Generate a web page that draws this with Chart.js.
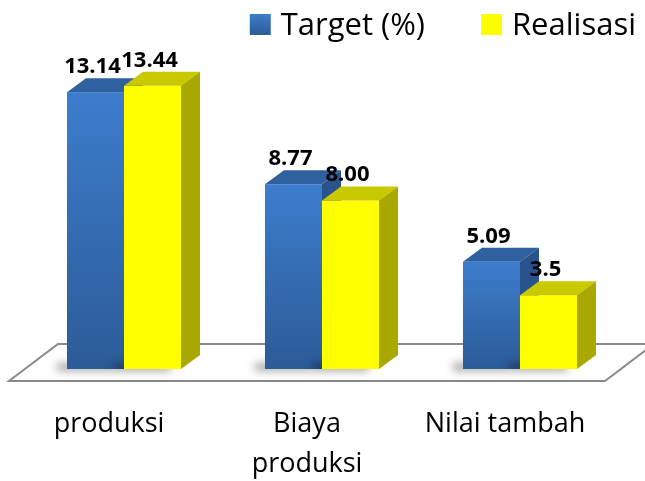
<!DOCTYPE html>
<html>
<head>
<meta charset="utf-8">
<script src="https://cdn.jsdelivr.net/npm/chart.js@4/dist/chart.umd.min.js"></script>
<style>
  html, body { margin: 0; padding: 0; background: #fff; }
  #wrap { width: 645px; height: 481px; position: relative; }
</style>
</head>
<body>
<div id="wrap"><canvas id="chart"></canvas></div>
<script>
// data
const categories = ['produksi', ['Biaya', 'produksi'], 'Nilai tambah'];
const targetValues = [13.14, 8.77, 5.09];
const realisasiValues = [13.44, 8.00, 3.5];
const targetLabels = ['13.14', '8.77', '5.09'];
const realisasiLabels = ['13.44', '8.00', '3.5'];

// 3D look
const DX = 19, DY = 14;
const FACES = [
    { front: ['#3d7dcd', '#2c5b97'], top: '#2f60a0', side: '#29538c', key: '#3a74c2' }, // blue
    { front: ['#ffff00', '#ffff00'], top: '#c9c900', side: '#a8a800', key: '#ffff00' }  // yellow
];

function drawBox(ctx, bar, face) {
    const p = bar.getProps(['x', 'y', 'base', 'width'], true);
    const l = p.x - p.width / 2, r = p.x + p.width / 2;
    const top = p.y, base = p.base;

    // soft shadow on the floor
    ctx.save();
    ctx.filter = 'blur(4px)';
    ctx.fillStyle = 'rgba(0,0,0,0.35)';
    ctx.fillRect(l - 10, base - 6, p.width, 8);
    ctx.restore();

    const g = ctx.createLinearGradient(0, top, 0, base);
    g.addColorStop(0, face.front[0]);
    g.addColorStop(1, face.front[1]);
    ctx.fillStyle = g;
    ctx.fillRect(l, top, r - l, base - top);

    ctx.fillStyle = face.top;
    ctx.beginPath();
    ctx.moveTo(l, top);
    ctx.lineTo(l + DX, top - DY);
    ctx.lineTo(r + DX, top - DY);
    ctx.lineTo(r, top);
    ctx.closePath();
    ctx.fill();

    ctx.fillStyle = face.side;
    ctx.beginPath();
    ctx.moveTo(r, top);
    ctx.lineTo(r + DX, top - DY);
    ctx.lineTo(r + DX, base - DY);
    ctx.lineTo(r, base);
    ctx.closePath();
    ctx.fill();
}

const bars3d = {
    id: 'bars3d',
    beforeDatasetsDraw(chart) {
        const ctx = chart.ctx;
        const area = chart.chartArea;
        const zeroY = chart.scales.y.getPixelForValue(0);

        // floor
        const fy = zeroY + 12, by = zeroY - 25;
        const fl = area.left - 16, fr = area.right - 14;
        ctx.save();
        ctx.fillStyle = '#fff';
        ctx.strokeStyle = '#8a8a8a';
        ctx.lineWidth = 2;
        ctx.beginPath();
        ctx.moveTo(fl, fy);
        ctx.lineTo(fr, fy);
        ctx.lineTo(fr + 49, by);
        ctx.lineTo(fl + 49, by);
        ctx.closePath();
        ctx.fill();
        ctx.stroke();

        // bars, group by group so the faces overlap the right way
        const metas = chart.data.datasets.map((d, i) => chart.getDatasetMeta(i));
        for (let i = 0; i < categories.length; i++) {
            metas.forEach((meta, di) => drawBox(ctx, meta.data[i], FACES[di]));
        }

        // value labels
        ctx.fillStyle = '#000';
        ctx.font = 'bold 22px "Open Sans"';
        ctx.textAlign = 'center';
        ctx.textBaseline = 'alphabetic';
        const texts = [targetLabels, realisasiLabels];
        metas.forEach((meta, di) => {
            meta.data.forEach((bar, i) => {
                ctx.fillText(texts[di][i], bar.x - 3, bar.y - DY - 5);
            });
        });
        ctx.restore();
        return false;
    },
    afterDraw(chart) {
        // legend, top right
        const ctx = chart.ctx;
        ctx.save();
        ctx.font = '31px "Open Sans"';
        ctx.textBaseline = 'alphabetic';
        ctx.textAlign = 'left';
        const items = chart.data.datasets.map((d, i) => ({ text: d.label, color: FACES[i].key }));
        const widths = items.map(it => 21 + 10 + ctx.measureText(it.text).width);
        const gap = 56;
        let x = 636 - widths.reduce((a, b) => a + b, 0) - gap * (items.length - 1);
        items.forEach((it, i) => {
            if (i === 0) {
                const g = ctx.createLinearGradient(0, 14, 0, 35);
                g.addColorStop(0, '#3d7dcd');
                g.addColorStop(1, '#2c5b97');
                ctx.fillStyle = g;
            } else {
                ctx.fillStyle = it.color;
            }
            ctx.fillRect(x, 14, 21, 21);
            ctx.fillStyle = '#000';
            ctx.fillText(it.text, x + 31, 35);
            x += widths[i] + gap;
        });
        ctx.restore();
    }
};

new Chart(document.getElementById('chart'), {
    type: 'bar',
    data: {
        labels: categories,
        datasets: [
            { label: 'Target (%)', data: targetValues, backgroundColor: '#3a74c2' },
            { label: 'Realisasi', data: realisasiValues, backgroundColor: '#ffff00' }
        ]
    },
    options: {
        responsive: true,
        maintainAspectRatio: false,
        animation: false,
        events: [],
        layout: { padding: { left: 25, right: 26, top: 53, bottom: 0 } },
        datasets: { bar: { categoryPercentage: 0.576, barPercentage: 1 } },
        plugins: {
            legend: { display: false },
            title: { display: false },
            tooltip: { enabled: false }
        },
        scales: {
            x: {
                grid: { display: false },
                border: { display: false },
                afterFit(scale) { scale.height = 112; },
                ticks: {
                    color: '#000',
                    padding: 27,
                    labelOffset: -15,
                    maxRotation: 0,
                    autoSkip: false,
                    font: { family: 'Open Sans', size: 27, lineHeight: 1.5 }
                }
            },
            y: { display: false, min: 0, max: 15 }
        }
    },
    plugins: [bars3d]
});
</script>
</body>
</html>
